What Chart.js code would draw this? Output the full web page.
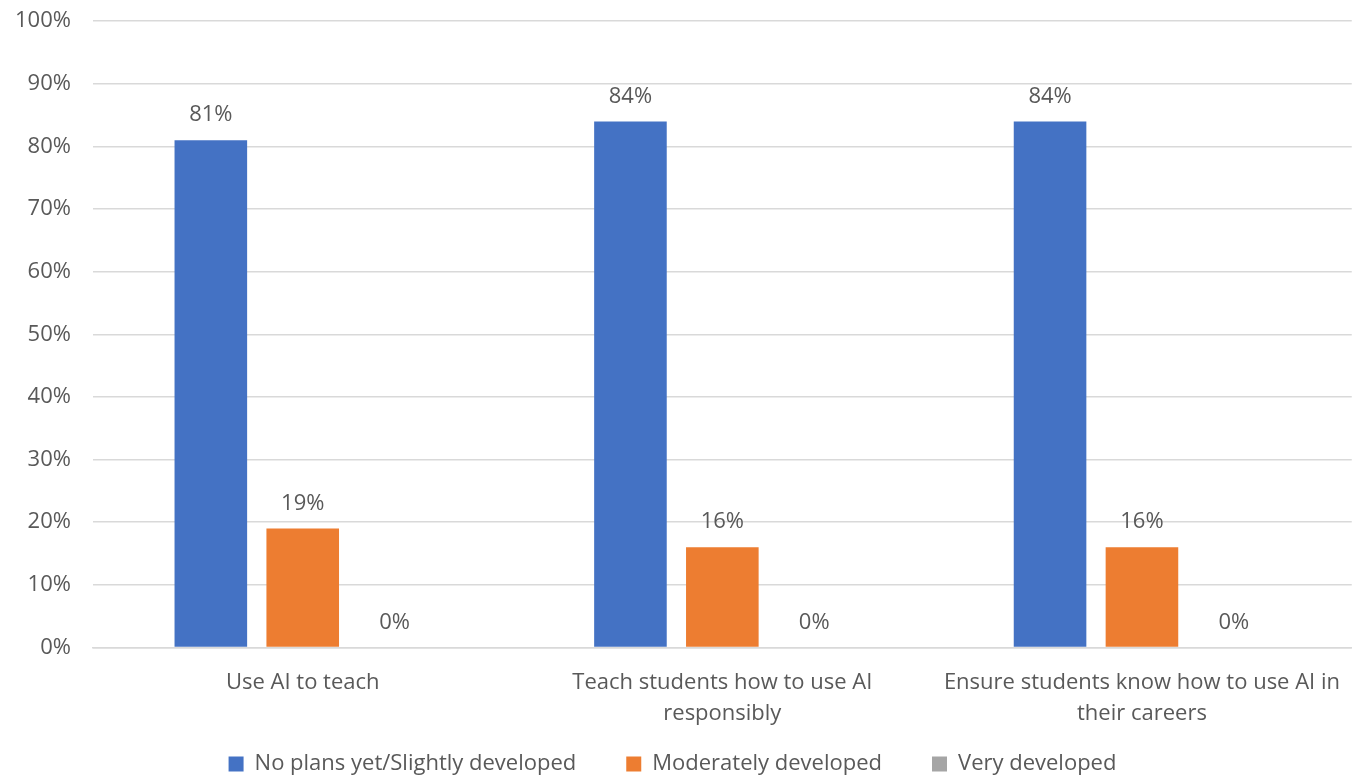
<!DOCTYPE html>
<html lang="en">
<head>
  <meta charset="UTF-8">
  <title>AI plans</title>
  <script src="https://cdn.jsdelivr.net/npm/chart.js"></script>
  <style>
    html, body { margin: 0; padding: 0; background: #fff; overflow: hidden; }
    #wrap { width: 1359px; height: 799px; margin-top: -14px; margin-left: -7px; }
  </style>
</head>
<body>
  <div id="wrap"><canvas id="chart"></canvas></div>
  <script>
    // data
    const categories = [
      'Use AI to teach',
      ['Teach students how to use AI', 'responsibly'],
      ['Ensure students know how to use AI in', 'their careers']
    ]
    const seriesNames = ['No plans yet/Slightly developed', 'Moderately developed', 'Very developed']
    const noPlans = [81, 84, 84]
    const moderately = [19, 16, 16]
    const very = [0, 0, 0]
    const yTicks = [0, 10, 20, 30, 40, 50, 60, 70, 80, 90, 100]

    const textColor = '#595959'
    const fontFamily = '"Open Sans", "Noto Sans", sans-serif'

    // draws the value labels above the bars
    const valueLabels = {
      id: 'valueLabels',
      afterDatasetsDraw(chart) {
        const ctx = chart.ctx
        ctx.save()
        ctx.font = '22px ' + fontFamily
        ctx.fillStyle = textColor
        ctx.textAlign = 'center'
        ctx.textBaseline = 'middle'
        chart.data.datasets.forEach((ds, i) => {
          chart.getDatasetMeta(i).data.forEach((bar, j) => {
            ctx.fillText(ds.data[j] + '%', bar.x, bar.y - 25)
          })
        })
        ctx.restore()
      }
    }

    new Chart(document.getElementById('chart'), {
      type: 'bar',
      data: {
        labels: categories,
        datasets: [
          { label: seriesNames[0], data: noPlans, backgroundColor: '#4472C4' },
          { label: seriesNames[1], data: moderately, backgroundColor: '#ED7D31' },
          { label: seriesNames[2], data: very, backgroundColor: '#A5A5A5' }
        ]
      },
      options: {
        responsive: true,
        maintainAspectRatio: false,
        animation: false,
        categoryPercentage: 0.657,
        barPercentage: 0.79,
        layout: { padding: 0 },
        plugins: {
          tooltip: { enabled: false },
          legend: {
            position: 'bottom',
            labels: {
              color: textColor,
              font: { size: 22, family: fontFamily },
              boxWidth: 15,
              boxHeight: 15,
              padding: 50
            }
          }
        },
        scales: {
          x: {
            grid: { display: false },
            border: { color: '#D9D9D9', width: 1.5 },
            afterFit: scale => {
              scale.height -= 38
              scale._computeLabelArea = () => null // keep 2nd label line visible
            },
            ticks: {
              color: textColor,
              font: { size: 22, family: fontFamily, lineHeight: 1.4 },
              maxRotation: 0,
              padding: 12
            }
          },
          y: {
            min: 0,
            max: 100,
            afterBuildTicks: axis => { axis.ticks = yTicks.map(v => ({ value: v })) },
            grid: { color: '#D9D9D9', lineWidth: 1.5, drawTicks: false },
            border: { display: false },
            ticks: {
              color: textColor,
              font: { size: 22, family: fontFamily },
              padding: 22,
              callback: v => v + '%'
            }
          }
        }
      },
      plugins: [valueLabels]
    })
  </script>
</body>
</html>
